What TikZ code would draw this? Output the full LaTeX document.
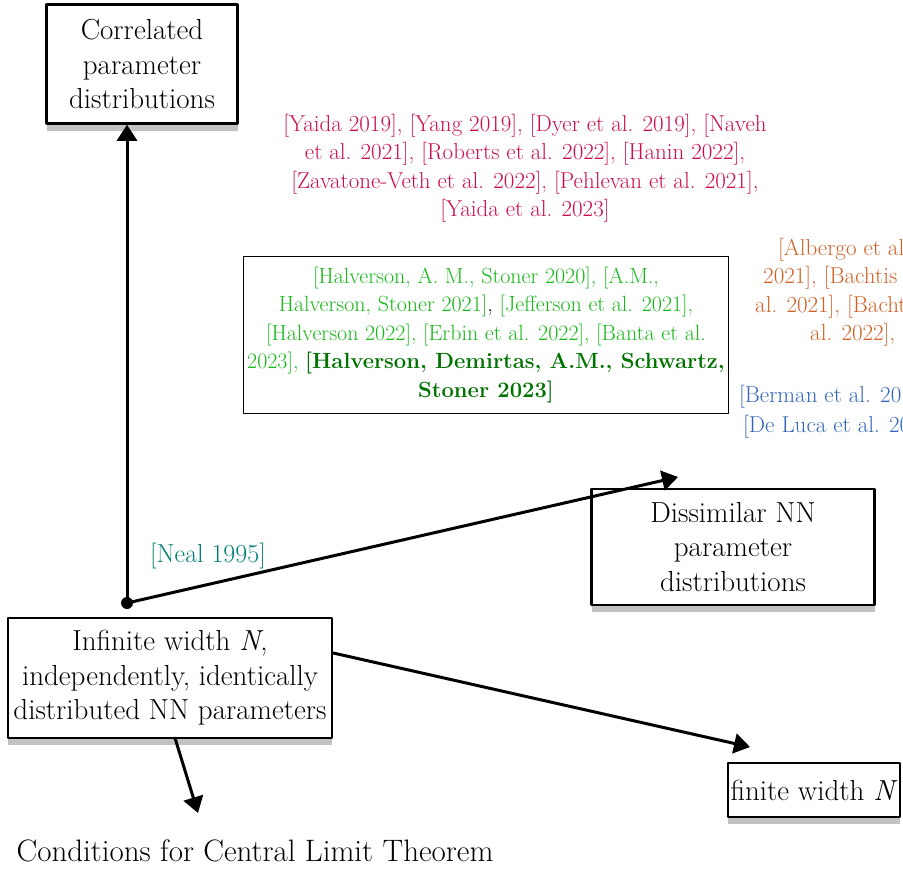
\documentclass[tikz,border=0pt]{standalone}
\usepackage{fontspec}
\usetikzlibrary{arrows.meta,shadows}
\definecolor{citered}{rgb}{0.8,0.05,0.3}
\definecolor{citegreen}{rgb}{0.1,0.72,0.1}
\definecolor{citedkgreen}{rgb}{0.0,0.45,0.0}
\definecolor{citeorange}{rgb}{0.82,0.38,0.15}
\definecolor{citeblue}{rgb}{0.2,0.4,0.72}
\definecolor{nealteal}{rgb}{0.0,0.5,0.45}
\newcommand{\boxfont}{\fontsize{29}{34.5}\selectfont}
\newcommand{\citefont}{\fontsize{23}{28.5}\selectfont}

\begin{document}
\begin{tikzpicture}[x=1pt,y=-1pt,line cap=round,line join=round,
	sketchbox/.style={draw=black,line width=2.5pt,fill=white,align=center,inner sep=2pt,font=\boxfont,
		drop shadow={shadow xshift=0pt,shadow yshift=-7pt,fill=black!60,opacity=0.4}},
	link/.style={line width=3pt,-{Triangle[length=16pt,width=20pt]}}]
	\useasboundingbox (0,0) rectangle (903,870);
	\clip (0,0) rectangle (903,870);
	% boxes
	\node[sketchbox,minimum width=191pt,minimum height=119pt] (corr) at (142,64) {Correlated\\parameter\\distributions};
	\node[sketchbox,minimum width=324pt,minimum height=120pt] (iid) at (170,678) {Infinite width \textit{N},\\independently, identically\\distributed NN parameters};
	\node[sketchbox,minimum width=283pt,minimum height=116pt] (dissim) at (733,547) {Dissimilar NN\\parameter\\distributions};
	\node[sketchbox,minimum width=172pt,minimum height=54pt] (finite) at (814,790) {finite width \textit{N}};
	\node[font=\fontsize{31}{36}\selectfont] (clt) at (255,851) {Conditions for Central Limit Theorem};
	% connectors
	\node[circle,fill=black,inner sep=0pt,minimum size=12pt] (dot) at (127,603) {};
	\coordinate (dtip) at (678,477);
	\coordinate (ftip) at (750,747);
	\coordinate (ctip) at (198,813);
	\draw[link] (dot.center) -- (dot |- corr.south);
	\draw[link] (dot.center) -- (dtip);
	\draw[link] (iid.east |- 0,653) -- (ftip);
	\draw[link] (175,738) -- (ctip);
	% citations
	\node[text=nealteal,font=\fontsize{26}{30}\selectfont] (neal) at (208,556) {[Neal 1995]};
	\node[text=citered,font=\citefont,align=center] (redcite) at (525,168) {[Yaida 2019], [Yang 2019], [Dyer et al. 2019], [Naveh\\et al. 2021], [Roberts et al. 2022], [Hanin 2022],\\{}[Zavatone-Veth et al. 2022], [Pehlevan et al. 2021],\\{}[Yaida et al. 2023]};
	\node[draw=black,line width=1.2pt,fill=white,minimum width=483pt,minimum height=157pt,align=center,font=\fontsize{22}{28.5}\selectfont,text=citegreen] (greencite) at (486,335) {[Halverson, A. M., Stoner 2020], [A.M.,\\Halverson, Stoner 2021]\textcolor{black}{,} [Jefferson et al. 2021],\\{}[Halverson 2022], [Erbin et al. 2022], [Banta et al.\\2023], \textcolor{citedkgreen}{\textbf{[Halverson, Demirtas, A.M., Schwartz,}}\\\textcolor{citedkgreen}{\textbf{Stoner 2023]}}};
	\foreach \x/\y/\t in {778/250/{[Albergo et al.},763/278/{2021], [Bachtis et},755/307/{al. 2021], [Bachtis et},810/335/{al. 2022], [}}
		\node[text=citeorange,font=\citefont,anchor=west,inner sep=0pt] at (\x,\y) {\t};
	\foreach \x/\y/\t in {739/397/{[Berman et al. 20},743/427/{[De Luca et al. 20}}
		\node[text=citeblue,font=\citefont,anchor=west,inner sep=0pt] at (\x,\y) {\t};
\end{tikzpicture}
\end{document}
